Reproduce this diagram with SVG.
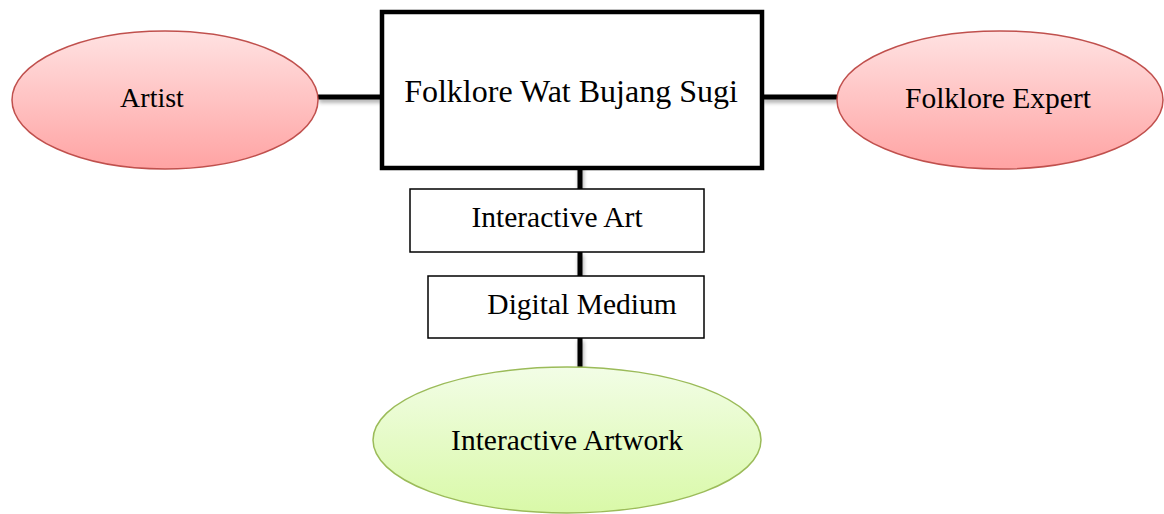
<svg xmlns="http://www.w3.org/2000/svg" width="1164" height="514" viewBox="0 0 1164 514">
<style>
text{font-family:"Liberation Serif","Times New Roman",serif;fill:#000;text-anchor:middle}
.lbl{font-size:29.5px}
.title{font-size:32px}
.red{fill:url(#gRed);stroke:#c0504d;stroke-width:1.5}
.green{fill:url(#gGreen);stroke:#9bbb59;stroke-width:1.5}
.box{fill:#fff;stroke:#000;stroke-width:1.5}
.main{fill:#fff;stroke:#000;stroke-width:4.5}
.conn{stroke:#000;stroke-width:5;fill:none}
</style>
<defs>
<linearGradient id="gRed" x1="0" y1="0" x2="0" y2="1">
<stop offset="0" stop-color="#ffe2e2"/>
<stop offset="1" stop-color="#ffa3a3"/>
</linearGradient>
<linearGradient id="gGreen" x1="0" y1="0" x2="0" y2="1">
<stop offset="0" stop-color="#f2fde6"/>
<stop offset="1" stop-color="#d9f9a8"/>
</linearGradient>
<filter id="sh" filterUnits="userSpaceOnUse" x="0" y="0" width="1164" height="514">
<feGaussianBlur in="SourceAlpha" stdDeviation="2"/>
<feOffset dx="1" dy="3" result="b"/>
<feComponentTransfer><feFuncA type="linear" slope="0.35"/></feComponentTransfer>
<feMerge><feMergeNode/><feMergeNode in="SourceGraphic"/></feMerge>
</filter>
</defs>
<g id="connectors" filter="url(#sh)">
<line class="conn" x1="318" y1="97" x2="382" y2="97"/>
<line class="conn" x1="762" y1="97" x2="837" y2="97"/>
<line class="conn" x1="580" y1="162" x2="580" y2="190"/>
<line class="conn" x1="580" y1="252" x2="580" y2="277"/>
<line class="conn" x1="580" y1="338" x2="580" y2="368"/>
</g>
<g id="artist">
<ellipse class="red" cx="165" cy="100" rx="153" ry="69"/>
<text class="lbl" x="152" y="107" style="font-size:28px">Artist</text>
</g>
<g id="expert">
<ellipse class="red" cx="1000" cy="100" rx="163" ry="69"/>
<text class="lbl" x="998" y="108">Folklore Expert</text>
</g>
<g id="folklore">
<rect class="main" x="382" y="12" width="380" height="156"/>
<text class="title" x="571" y="102">Folklore Wat Bujang Sugi</text>
</g>
<g id="interactive-art">
<rect class="box" x="410" y="189" width="294" height="63"/>
<text class="lbl" x="557" y="227">Interactive Art</text>
</g>
<g id="digital-medium">
<rect class="box" x="428" y="276" width="276" height="62"/>
<text class="lbl" x="582" y="314">Digital Medium</text>
</g>
<g id="artwork">
<ellipse class="green" cx="567" cy="440" rx="194" ry="73"/>
<text class="lbl" x="567" y="450">Interactive Artwork</text>
</g>
</svg>
